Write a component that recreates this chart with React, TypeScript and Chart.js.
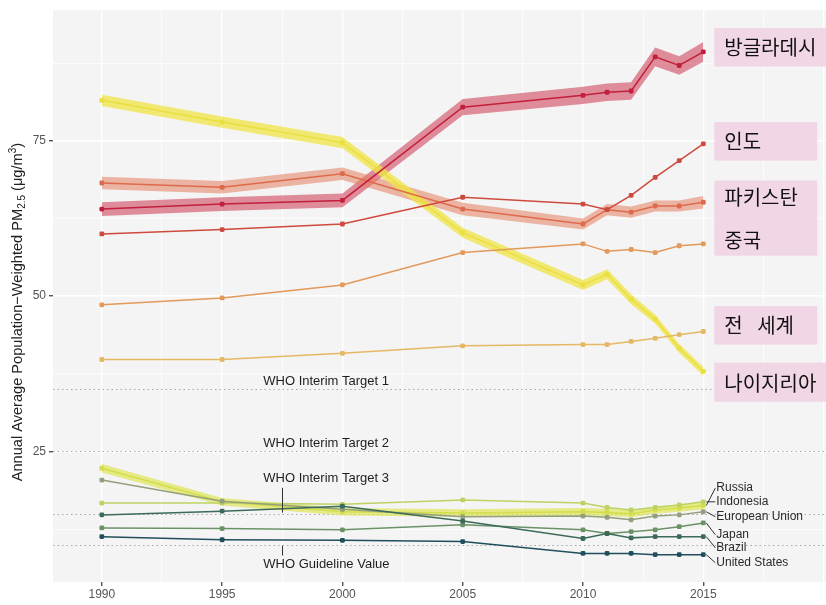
import React, { useEffect, useRef } from 'react';
import { Chart, registerables } from 'chart.js';
Chart.register(...registerables);

// ---------- data ----------
const years = [1990, 1995, 2000, 2005, 2010, 2011, 2012, 2013, 2014, 2015];

const bangladesh = [64.0, 64.8, 65.4, 80.4, 82.3, 82.8, 83.0, 88.5, 87.1, 89.3];
const bangladeshUnc = [1.1, 1.1, 1.1, 1.3, 1.4, 1.4, 1.4, 1.5, 1.5, 1.6];
const india = [60.0, 60.7, 61.6, 65.9, 64.8, 63.9, 66.2, 69.1, 71.8, 74.5];
const pakistan = [68.2, 67.5, 69.7, 64.0, 61.6, 63.9, 63.5, 64.5, 64.5, 65.1];
const pakistanUnc = [1.0, 1.0, 1.0, 1.0, 0.9, 0.9, 0.9, 0.9, 0.9, 1.0];
const china = [48.6, 49.7, 51.8, 57.0, 58.4, 57.2, 57.5, 57.0, 58.1, 58.4];
const world = [39.8, 39.8, 40.8, 42.0, 42.2, 42.2, 42.7, 43.2, 43.8, 44.3];
const nigeria = [81.5, 78.0, 74.7, 60.2, 51.8, 53.5, 49.5, 46.3, 41.6, 37.9];
const nigeriaUnc = [0.9, 0.9, 0.9, 0.8, 0.8, 0.8, 0.8, 0.7, 0.7, 0.7];

const russia = [22.3, 16.9, 15.3, 15.1, 15.3, 15.2, 15.0, 15.6, 15.9, 16.3];
const russiaUnc = [0.7, 0.6, 0.6, 0.6, 0.6, 0.6, 0.6, 0.6, 0.6, 0.6];
const indonesia = [16.7, 16.7, 16.5, 17.2, 16.7, 16.0, 15.6, 16.0, 16.4, 16.9];
const europeanUnion = [20.4, 17.0, 15.7, 14.5, 14.6, 14.4, 14.0, 14.6, 14.8, 15.3];
const japan = [12.7, 12.6, 12.4, 13.2, 12.4, 11.8, 12.1, 12.4, 12.9, 13.5];
const brazil = [14.8, 15.4, 16.2, 13.8, 11.0, 11.8, 11.1, 11.3, 11.3, 11.3];
const unitedStates = [11.3, 10.8, 10.7, 10.5, 8.6, 8.6, 8.6, 8.4, 8.4, 8.4];

const whoValues = [35, 25, 15, 10];
const whoLabels = ['WHO Interim Target 1', 'WHO Interim Target 2', 'WHO Interim Target 3', 'WHO Guideline Value'];
const whoLabelY = [36.3, 26.3, 20.6, 6.8];
const whoLabelX = 1997.5;

const lowNames = ['Russia', 'Indonesia', 'European Union', 'Japan', 'Brazil', 'United States'];
const lowSeries = [russia, indonesia, europeanUnion, japan, brazil, unitedStates];
const lowLabelY = [19.1, 16.9, 14.5, 11.6, 9.5, 7.1];

const krLabels = [['방글라데시'], ['인도'], ['파키스탄', '중국'], ['전 세계'], ['나이지리아']];
const krBoxTop = [93.15, 78.0, 68.6, 48.4, 39.3];
const krBoxBottom = [86.94, 71.8, 56.5, 42.2, 33.0];
const krTextY = [[90.1], [75.0], [66.1, 59.1], [45.4], [36.1]];

const xTicks = [1990, 1992.5, 1995, 1997.5, 2000, 2002.5, 2005, 2007.5, 2010, 2012.5, 2015, 2017.5, 2020];
const yTicks = [12.5, 25, 37.5, 50, 62.5, 75, 87.5];

// ---------- helpers ----------
const pts = (arr: number[]) => years.map((x, i) => ({ x, y: arr[i] }));

function bandSets(arr: number[], unc: number[], color: string) {
  return [
    {
      data: years.map((x, i) => ({ x, y: arr[i] + unc[i] })),
      borderWidth: 0, pointRadius: 0, fill: '+1', backgroundColor: color, order: 10,
    },
    {
      data: years.map((x, i) => ({ x, y: arr[i] - unc[i] })),
      borderWidth: 0, pointRadius: 0, fill: false, backgroundColor: color, order: 10,
    },
  ];
}

function lineSet(arr: number[], color: string, width = 1.5, radius = 2.8) {
  return {
    data: pts(arr),
    borderColor: color,
    backgroundColor: color,
    pointBackgroundColor: color,
    borderWidth: width,
    pointRadius: radius,
    pointStyle: 'rectRounded',
    pointBorderWidth: 0,
    fill: false,
    order: 1,
  };
}

const FONT = '"Liberation Sans", Arial, Helvetica, sans-serif';
const KFONT = '"Noto Sans CJK KR", "Noto Sans", sans-serif';

const decor = {
  id: 'decor',
  beforeDraw(chart: any) {
    const { ctx, chartArea: a } = chart;
    ctx.save();
    ctx.fillStyle = '#f4f4f4';
    ctx.fillRect(a.left, a.top, a.right - a.left, a.bottom - a.top);
    ctx.restore();
  },
  beforeDatasetsDraw(chart: any) {
    const { ctx, chartArea: a, scales } = chart;
    const y = scales.y;
    ctx.save();
    ctx.strokeStyle = '#a8a8a8';
    ctx.lineWidth = 1.1;
    ctx.setLineDash([1.5, 3]);
    whoValues.forEach((v) => {
      const py = Math.round(y.getPixelForValue(v)) + 0.5;
      ctx.beginPath();
      ctx.moveTo(a.left, py);
      ctx.lineTo(a.right, py);
      ctx.stroke();
    });
    ctx.restore();
  },
  afterDatasetsDraw(chart: any) {
    const { ctx, scales } = chart;
    const x = scales.x;
    const y = scales.y;
    ctx.save();
    // WHO labels
    ctx.font = `13px ${FONT}`;
    ctx.fillStyle = '#1e1e1e';
    ctx.textBaseline = 'middle';
    ctx.textAlign = 'left';
    const lx = x.getPixelForValue(whoLabelX) - 19;
    whoLabels.forEach((t, i) => {
      const py = y.getPixelForValue(whoLabelY[i]);
      ctx.fillText(t, lx, py);
      const linePy = y.getPixelForValue(whoValues[i]);
      if (Math.abs(py - linePy) > 16) {
        const leadX = Math.round(x.getPixelForValue(whoLabelX)) + 0.5;
        ctx.strokeStyle = '#333';
        ctx.lineWidth = 1;
        ctx.beginPath();
        if (py < linePy) {
          ctx.moveTo(leadX, py + 9);
          ctx.lineTo(leadX, linePy - 1);
        } else {
          ctx.moveTo(leadX, linePy + 1);
          ctx.lineTo(leadX, py - 9);
        }
        ctx.stroke();
      }
    });

    // right-side English labels with leaders
    ctx.font = `12px ${FONT}`;
    ctx.fillStyle = '#2a2a2a';
    const endX = x.getPixelForValue(years[years.length - 1]);
    lowNames.forEach((n, i) => {
      const s = lowSeries[i];
      const sy = y.getPixelForValue(s[s.length - 1]);
      const ly = y.getPixelForValue(lowLabelY[i]);
      ctx.strokeStyle = '#333';
      ctx.lineWidth = 1;
      ctx.beginPath();
      ctx.moveTo(endX + 3, sy);
      ctx.lineTo(endX + 12, ly);
      ctx.stroke();
      ctx.fillText(n, endX + 13, ly);
    });

    // Korean overlay boxes
    const bx = endX + 11;
    krLabels.forEach((lines, i) => {
      const top = y.getPixelForValue(krBoxTop[i]);
      const bot = y.getPixelForValue(krBoxBottom[i]);
      ctx.font = `20px ${KFONT}`;
      let maxW = 0;
      lines.forEach((t) => { maxW = Math.max(maxW, ctx.measureText(t).width); });
      const right = Math.min(chart.width, Math.max(bx + 103, bx + 10 + maxW + 10));
      ctx.fillStyle = '#f1d6e6';
      ctx.fillRect(bx, top, right - bx, bot - top);
      ctx.fillStyle = '#111';
      lines.forEach((t, j) => {
        const ty = y.getPixelForValue(krTextY[i][j]);
        (ctx as any).wordSpacing = t.includes(' ') ? '10px' : '0px';
        ctx.fillText(t, bx + 10, ty + 1);
      });
      (ctx as any).wordSpacing = '0px';
    });
    ctx.restore();
  },
  afterDraw(chart: any) {
    const { ctx, chartArea: a } = chart;
    ctx.save();
    const cy = (a.top + a.bottom) / 2 + 16;
    ctx.translate(18, cy);
    ctx.rotate(-Math.PI / 2);
    ctx.fillStyle = '#222';
    ctx.textBaseline = 'middle';
    ctx.textAlign = 'left';
    const big = `14.6px ${FONT}`;
    const small = `10px ${FONT}`;
    const parts: [string, string, number][] = [
      ['Annual Average Population\u2212Weighted PM', big, 0],
      ['2.5', small, 4],
      [' (\u03bcg/m', big, 0],
      ['3', small, -5],
      [')', big, 0],
    ];
    let total = 0;
    parts.forEach(([t, f]) => { ctx.font = f; total += ctx.measureText(t).width; });
    let cx = -total / 2;
    parts.forEach(([t, f, dy]) => {
      ctx.font = f;
      ctx.fillText(t, cx, dy);
      cx += ctx.measureText(t).width;
    });
    ctx.restore();
  },
};

export default function App() {
  const ref = useRef<HTMLCanvasElement>(null);
  useEffect(() => {
    document.body.style.margin = '0';
    const canvas = ref.current!;
    Chart.defaults.font.family = FONT;
    const datasets: any[] = [
      lineSet(unitedStates, '#1f4f5c'),
      lineSet(brazil, '#3c6a5a'),
      lineSet(japan, '#6b9266'),
      lineSet(europeanUnion, '#939f7c'),
      lineSet(indonesia, '#bed263'),
      lineSet(russia, '#d3de4c', 1.5, 2.8),
      lineSet(india, '#cf4a3e'),
      lineSet(bangladesh, '#c21f3c'),
      lineSet(pakistan, '#de6a4c'),
      lineSet(china, '#e2995a'),
      lineSet(world, '#e5b865'),
      lineSet(nigeria, '#e9df3e'),
      ...bandSets(russia, russiaUnc, 'rgba(222,230,85,0.7)'),
      ...bandSets(nigeria, nigeriaUnc, 'rgba(240,228,70,0.75)'),
      ...bandSets(pakistan, pakistanUnc, 'rgba(228,125,95,0.55)'),
      ...bandSets(bangladesh, bangladeshUnc, 'rgba(205,55,80,0.55)'),
    ];
    const chart = new Chart(canvas, {
      type: 'line',
      data: { datasets },
      plugins: [decor],
      options: {
        responsive: false,
        animation: false,
        devicePixelRatio: 1,
        layout: { autoPadding: false, padding: { top: 5, right: 0, left: 0, bottom: 0 } },
        plugins: { legend: { display: false }, tooltip: { enabled: false } },
        elements: { line: { tension: 0 } },
        scales: {
          x: {
            type: 'linear',
            min: 1987.97,
            max: 2020.1,
            afterBuildTicks: (s: any) => { s.ticks = xTicks.map((v) => ({ value: v })); },
            afterFit: (s: any) => { s.height = 23; },
            border: { display: false },
            grid: {
              color: '#ffffff',
              lineWidth: (c: any) => (c.tick && c.tick.value % 5 === 0 ? 1.4 : 0.7),
              tickColor: (c: any) => (c.tick && c.tick.value % 5 === 0 && c.tick.value <= 2015 ? '#555' : 'rgba(0,0,0,0)'),
              tickLength: 4,
              drawTicks: true,
            },
            ticks: {
              autoSkip: false,
              maxRotation: 0,
              padding: 1,
              color: '#555',
              font: { size: 12, family: FONT },
              callback: (v: any) => (v % 5 === 0 && v <= 2015 ? String(v) : ''),
            },
          },
          y: {
            type: 'linear',
            min: 4,
            max: 96,
            afterBuildTicks: (s: any) => { s.ticks = yTicks.map((v) => ({ value: v })); },
            afterFit: (s: any) => { s.width = 53; },
            border: { display: false },
            grid: {
              color: '#ffffff',
              lineWidth: (c: any) => (c.tick && c.tick.value % 25 === 0 ? 1.4 : 0.7),
              tickColor: (c: any) => (c.tick && c.tick.value % 25 === 0 ? '#555' : 'rgba(0,0,0,0)'),
              tickLength: 4,
            },
            ticks: {
              autoSkip: false,
              padding: 3,
              color: '#555',
              font: { size: 12, family: FONT },
              callback: (v: any) => (v % 25 === 0 ? String(v) : ''),
            },
          },
        },
      } as any,
    });
    return () => chart.destroy();
  }, []);
  return (
    <div style={{ width: 826, height: 605 }}>
      <canvas ref={ref} width={826} height={605} style={{ display: 'block' }} />
    </div>
  );
}
